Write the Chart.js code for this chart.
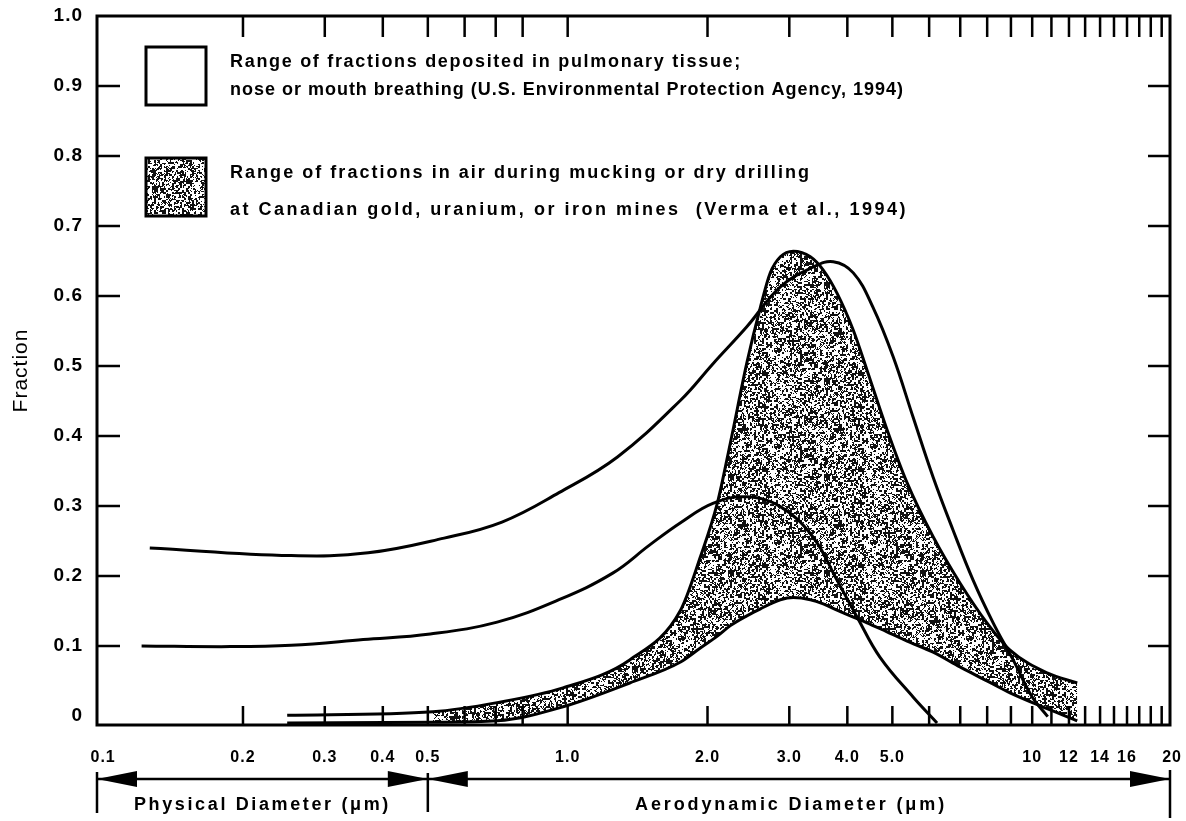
<!DOCTYPE html>
<html>
<head>
<meta charset="utf-8">
<script src="https://cdn.jsdelivr.net/npm/chart.js@4.4.1/dist/chart.umd.min.js"></script>
<style>
  html, body { margin: 0; padding: 0; background: #fff; }
  #wrap { width: 1186px; height: 821px; position: relative; }
</style>
</head>
<body>
<div id="wrap"><canvas id="chart"></canvas></div>
<script>
// EPA pulmonary deposition range (upper and lower curves), size in um
const epaMaxSize = [0.126, 0.254, 0.372, 0.542, 0.722, 0.958, 1.28, 1.75, 2.06, 2.43, 2.87, 3.37, 3.73, 4.12, 4.54, 5.02, 5.54, 6.12, 6.75, 7.46, 8.24, 9.10, 10.0, 10.8];
const epaMaxFrac = [0.240, 0.229, 0.233, 0.254, 0.277, 0.319, 0.370, 0.451, 0.504, 0.556, 0.613, 0.641, 0.649, 0.633, 0.584, 0.513, 0.427, 0.341, 0.266, 0.194, 0.133, 0.080, 0.027, -0.001];

const epaMinSize = [0.121, 0.188, 0.254, 0.363, 0.506, 0.705, 0.958, 1.25, 1.50, 1.75, 2.06, 2.43, 2.87, 3.37, 3.80, 4.20, 4.70, 5.54, 6.24];
const epaMinFrac = [0.100, 0.099, 0.101, 0.109, 0.117, 0.134, 0.166, 0.204, 0.244, 0.276, 0.304, 0.313, 0.299, 0.256, 0.194, 0.141, 0.084, 0.027, -0.010];

// Verma et al. mine air fractions (shaded band)
const mineSize = [0.249, 0.513, 0.705, 0.977, 1.36, 1.75, 1.93, 2.10, 2.24, 2.43, 2.60, 2.73, 2.87, 3.06, 3.33, 3.55, 3.80, 4.12, 4.41, 4.87, 5.38, 6.12, 6.99, 7.99, 8.96, 10.8, 12.5];
const mineMaxFrac = [0.001, 0.006, 0.019, 0.040, 0.080, 0.151, 0.227, 0.304, 0.390, 0.504, 0.584, 0.633, 0.656, 0.664, 0.656, 0.637, 0.604, 0.551, 0.494, 0.409, 0.333, 0.256, 0.190, 0.133, 0.094, 0.061, 0.047];
const mineMinFrac = [-0.010, -0.009, -0.007, 0.013, 0.047, 0.077, 0.097, 0.114, 0.129, 0.143, 0.153, 0.160, 0.166, 0.169, 0.166, 0.160, 0.151, 0.141, 0.133, 0.120, 0.107, 0.091, 0.070, 0.050, 0.033, 0.010, -0.007];

// axis ticks
const xTickValues = [0.1, 0.2, 0.3, 0.4, 0.5, 1, 2, 3, 4, 5, 10, 12, 14, 16, 20];
const xTickLabels = ["0.1", "0.2", "0.3", "0.4", "0.5", "1.0", "2.0", "3.0", "4.0", "5.0", "10", "12", "14", "16", "20"];
const xMinorTicks = [0.2, 0.3, 0.4, 0.5, 0.6, 0.7, 0.8, 1, 2, 3, 4, 5, 6, 7, 8, 9, 10, 11, 12, 13, 14, 15, 16, 17, 18, 19];
const yTickValues = [0, 0.1, 0.2, 0.3, 0.4, 0.5, 0.6, 0.7, 0.8, 0.9, 1.0];
const yTickLabels = ["0", "0.1", "0.2", "0.3", "0.4", "0.5", "0.6", "0.7", "0.8", "0.9", "1.0"];

const legendLines = [
  "Range of fractions deposited in pulmonary tissue;",
  "nose or mouth breathing (U.S. Environmental Protection Agency, 1994)",
  "Range of fractions in air during mucking or dry drilling",
  "at Canadian gold, uranium, or iron mines  (Verma et al., 1994)"
];

const FONT = '"Liberation Sans", Arial, Helvetica, sans-serif';
Chart.defaults.font.family = FONT;
Chart.defaults.color = '#000';

// stippled fill, like the scanned halftone
function makeStipple() {
  const c = document.createElement('canvas');
  c.width = 96; c.height = 96;
  const g = c.getContext('2d');
  g.fillStyle = '#fff';
  g.fillRect(0, 0, 96, 96);
  const hash = (a, b) => {
    let h = Math.imul(a, 374761393) + Math.imul(b, 668265263) | 0;
    h = Math.imul(h ^ (h >>> 13), 1274126177);
    return ((h ^ (h >>> 16)) >>> 0) / 4294967296;
  };
  g.fillStyle = '#111';
  for (let yy = 0; yy < 96; yy++) {
    for (let xx = 0; xx < 96; xx++) {
      const v = 0.6 * hash(xx >> 1, (yy >> 1) + 977) + 0.4 * hash(xx, yy);
      if (v < 0.47) g.fillRect(xx, yy, 1, 1);
    }
  }
  return c;
}
const stippleCanvas = makeStipple();
const stipple = document.getElementById('chart').getContext('2d').createPattern(stippleCanvas, 'repeat');

const pts = (xs, ys) => xs.map((x, i) => ({ x: x, y: ys[i] }));

function curve(xs, ys, smooth) {
  const ds = {
    data: pts(xs, ys),
    borderColor: '#000',
    borderWidth: 3,
    pointRadius: 0,
    fill: false
  };
  if (smooth) ds.tension = 0.4;
  else ds.cubicInterpolationMode = 'monotone';
  return ds;
}

function fitText(ctx, text, x, y, width) {
  ctx.letterSpacing = '0px';
  const w = ctx.measureText(text).width;
  ctx.letterSpacing = ((width - w) / text.length) + 'px';
  ctx.fillText(text, x, y);
  ctx.letterSpacing = '0px';
}

function arrowHead(ctx, tipX, y, dir) {
  ctx.beginPath();
  ctx.moveTo(tipX, y);
  ctx.lineTo(tipX - dir * 40, y - 8);
  ctx.lineTo(tipX - dir * 40, y + 8);
  ctx.closePath();
  ctx.fill();
}

const framePlugin = {
  id: 'frame',
  beforeLayout(chart) { chart.ctx.letterSpacing = '1px'; },
  beforeDraw(chart) { chart.ctx.letterSpacing = '1px'; },
  afterDraw(chart) {
    const { ctx, chartArea: a } = chart;
    const x = chart.scales.x, y = chart.scales.y;
    ctx.save();
    ctx.strokeStyle = '#000';
    ctx.fillStyle = '#000';

    // frame
    ctx.lineWidth = 3;
    ctx.strokeRect(a.left, a.top, a.right - a.left, a.bottom - a.top);

    // inward tick marks
    ctx.lineWidth = 2.5;
    ctx.beginPath();
    xMinorTicks.forEach(v => {
      const px = x.getPixelForValue(v);
      ctx.moveTo(px, a.bottom); ctx.lineTo(px, a.bottom - 19);
      ctx.moveTo(px, a.top); ctx.lineTo(px, a.top + 21);
    });
    yTickValues.forEach(v => {
      if (v <= 0 || v >= 1) return;
      const py = y.getPixelForValue(v);
      ctx.moveTo(a.left, py); ctx.lineTo(a.left + 23, py);
      ctx.moveTo(a.right, py); ctx.lineTo(a.right - 22, py);
    });
    ctx.stroke();

    // legend
    ctx.lineWidth = 3;
    ctx.fillStyle = '#fff';
    ctx.fillRect(146, 47, 60, 58);
    ctx.strokeRect(146, 47, 60, 58);
    ctx.fillStyle = stipple;
    ctx.fillRect(146, 158, 60, 58);
    ctx.strokeRect(146, 158, 60, 58);

    ctx.fillStyle = '#000';
    ctx.font = 'bold 18px ' + FONT;
    ctx.textAlign = 'left';
    ctx.textBaseline = 'middle';
    fitText(ctx, legendLines[0], 230, 62, 512);
    fitText(ctx, legendLines[1], 230, 90, 674);
    fitText(ctx, legendLines[2], 230, 173, 581);
    fitText(ctx, legendLines[3], 230, 210, 678);

    // physical / aerodynamic diameter arrows
    const ay = 779;
    const div = x.getPixelForValue(0.5);
    ctx.lineWidth = 2.5;
    ctx.beginPath();
    ctx.moveTo(a.left, ay); ctx.lineTo(a.right, ay);
    ctx.moveTo(a.left, 772); ctx.lineTo(a.left, 813);
    ctx.moveTo(div, 773); ctx.lineTo(div, 812);
    ctx.moveTo(a.right, 770); ctx.lineTo(a.right, 818);
    ctx.stroke();
    arrowHead(ctx, a.left, ay, -1);
    arrowHead(ctx, div, ay, 1);
    arrowHead(ctx, div, ay, -1);
    arrowHead(ctx, a.right, ay, 1);

    ctx.font = 'bold 18px ' + FONT;
    const physW = 257, aeroW = 312;
    fitText(ctx, 'Physical Diameter (\u03bcm)', (a.left + div) / 2 - physW / 2, 805, physW);
    fitText(ctx, 'Aerodynamic Diameter (\u03bcm)', 791 - aeroW / 2, 805, aeroW);

    ctx.restore();
  }
};

new Chart(document.getElementById('chart'), {
  type: 'line',
  data: {
    datasets: [
      {
        data: pts(mineSize.slice(1), mineMaxFrac.slice(1)),
        borderColor: 'rgba(0,0,0,0)',
        pointRadius: 0,
        fill: '+1',
        backgroundColor: stipple,
        cubicInterpolationMode: 'monotone'
      },
      {
        data: pts(mineSize.slice(1), mineMinFrac.slice(1)),
        borderColor: 'rgba(0,0,0,0)',
        pointRadius: 0,
        fill: false,
        cubicInterpolationMode: 'monotone'
      },
      curve(mineSize, mineMaxFrac, false),
      curve(mineSize, mineMinFrac, false),
      curve(epaMaxSize, epaMaxFrac, true),
      curve(epaMinSize, epaMinFrac, true)
    ]
  },
  options: {
    responsive: true,
    maintainAspectRatio: false,
    animation: false,
    layout: { padding: { top: 16, right: 16, left: 0, bottom: 0 } },
    plugins: {
      legend: { display: false },
      tooltip: { enabled: false },
      filler: { drawTime: 'beforeDatasetsDraw' }
    },
    scales: {
      x: {
        type: 'logarithmic',
        min: 0.097,
        max: 19.8,
        grid: { display: false },
        border: { display: false },
        afterBuildTicks: (s) => { s.ticks = xTickValues.map(v => ({ value: v })); },
        afterFit: (s) => { s.height = 96; s.paddingLeft = 0; s.paddingRight = 0; },
        ticks: {
          autoSkip: false,
          maxRotation: 0,
          padding: 15,
          font: { size: 16, weight: 'bold' },
          callback: (v, i) => xTickLabels[i]
        }
      },
      y: {
        min: -0.013,
        max: 1.0,
        grid: { display: false },
        border: { display: false },
        afterBuildTicks: (s) => { s.ticks = yTickValues.map(v => ({ value: v })); },
        afterFit: (s) => { s.width = 97; s.paddingTop = 0; s.paddingBottom = 0; },
        ticks: {
          padding: 6,
          font: { size: 19, weight: 'bold' },
          callback: (v, i) => yTickLabels[i]
        },
        title: {
          display: true,
          text: 'Fraction',
          font: { size: 21 },
          padding: { top: 9, bottom: 0 }
        }
      }
    }
  },
  plugins: [framePlugin]
});
</script>
</body>
</html>
